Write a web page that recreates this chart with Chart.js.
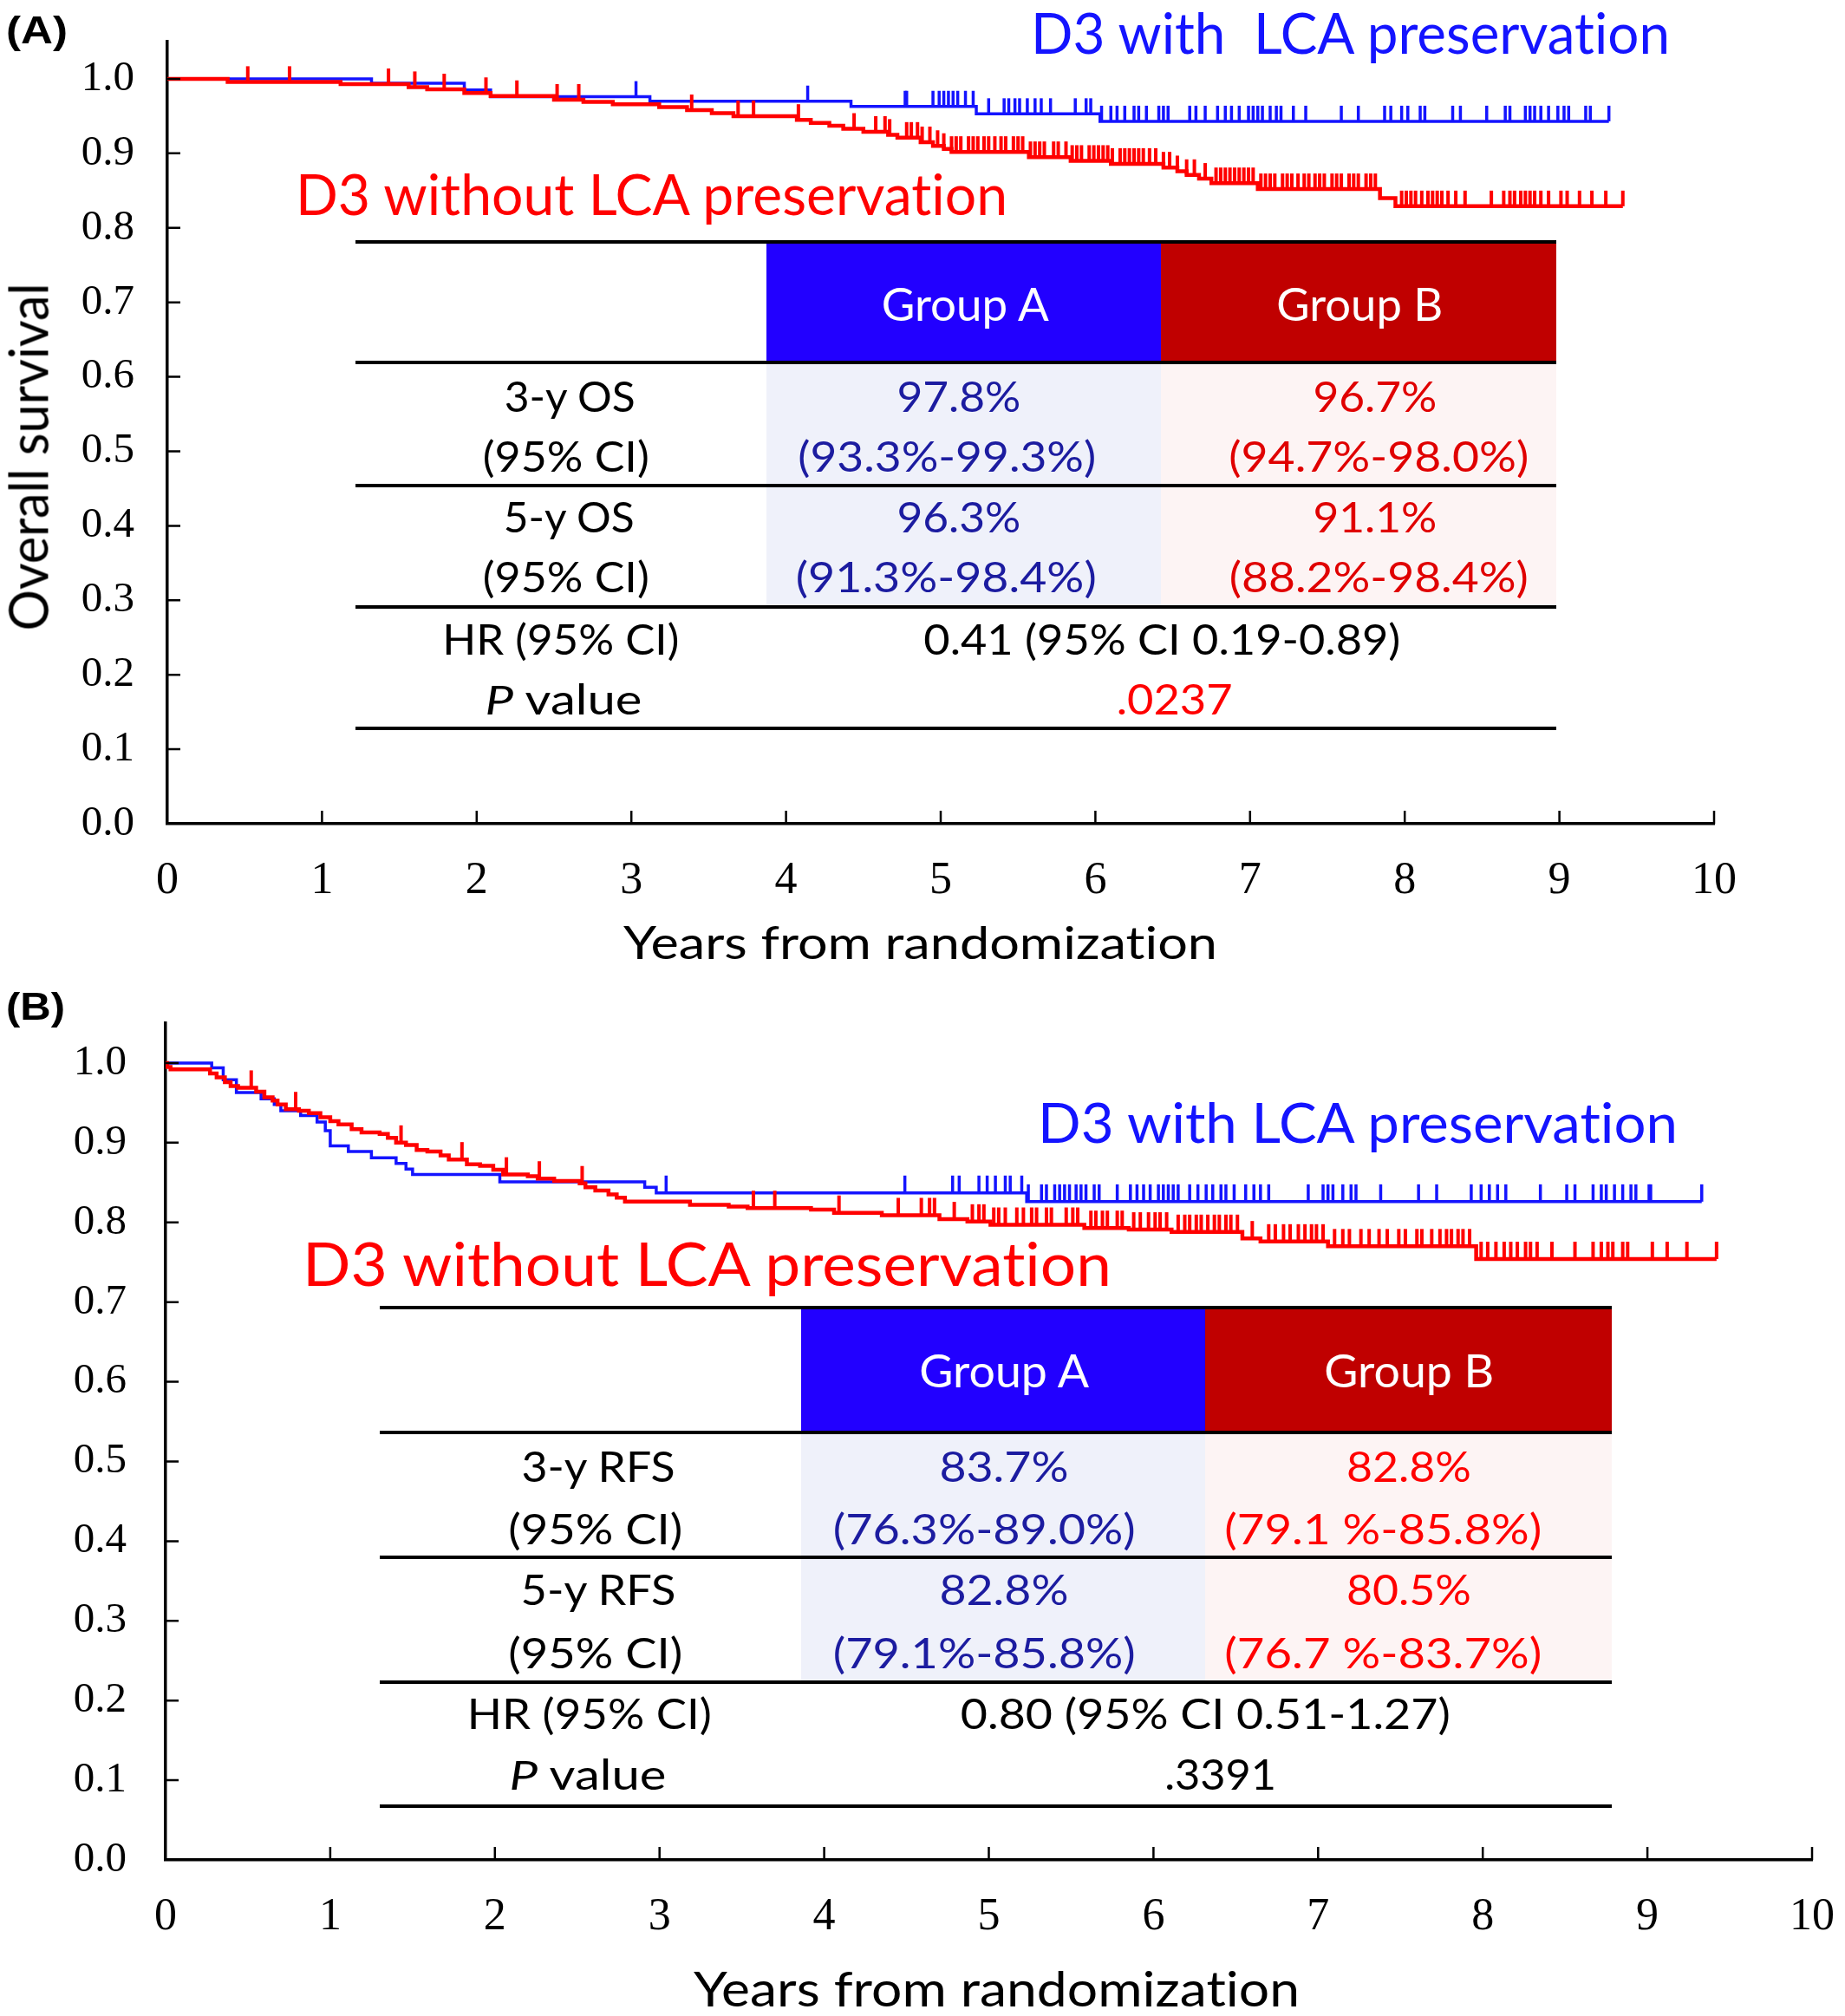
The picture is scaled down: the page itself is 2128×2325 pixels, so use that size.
<!DOCTYPE html>
<html><head><meta charset="utf-8">
<script src="https://cdn.jsdelivr.net/npm/chart.js@4.4.1/dist/chart.umd.min.js"></script>
<style>
html,body{margin:0;padding:0;background:#fff;overflow:hidden;}
#page{position:relative;width:2128px;height:2325px;overflow:hidden;background:#fff;}
canvas{position:absolute;left:0;}
.t{position:absolute;left:0;top:0;white-space:pre;font-family:Lato,'Open Sans',sans-serif;line-height:1;font-variant-ligatures:none;font-feature-settings:"liga" 0,"dlig" 0;}
.box{position:absolute;}
</style></head><body><div id="page">
<canvas id="cA" width="2128" height="1130" style="top:0px"></canvas>
<canvas id="cB" width="2128" height="1195" style="top:1130px"></canvas>
</div>
<script>
// ---------------- DATA ----------------
const xTickValues = [0,1,2,3,4,5,6,7,8,9,10];
const yTickValues = [0,0.1,0.2,0.3,0.4,0.5,0.6,0.7,0.8,0.9,1.0];

// Panel A: overall survival
const osBlueTimes = [0,1.32,1.92,2.09,3.12,4.42,5.23,6.03];
const osBlueSurv  = [1,0.994,0.985,0.976,0.970,0.963,0.953,0.943];
const osBlueEnd = 9.32;
const osBlueCensor = [3.03,4.14,4.77,4.78,4.95,4.99,5.02,5.05,5.08,5.11,5.16,5.21,5.31,5.41,5.44,5.48,5.51,5.56,5.61,5.65,5.71,5.87,5.94,5.97,6.04,6.10,6.14,6.19,6.25,6.28,6.33,6.41,6.44,6.47,6.61,6.65,6.71,6.79,6.84,6.88,6.93,6.99,7.02,7.05,7.08,7.13,7.17,7.20,7.28,7.36,7.59,7.70,7.87,7.91,7.98,8.02,8.10,8.13,8.31,8.36,8.53,8.65,8.68,8.78,8.81,8.84,8.88,8.93,8.99,9.03,9.06,9.17,9.20,9.32];

const osRedTimes = [0,0.39,1.12,1.56,1.68,1.92,2.09,2.50,2.69,2.88,3.18,3.36,3.52,3.66,4.07,4.16,4.28,4.37,4.50,4.66,4.72,4.87,4.95,5.02,5.07,5.57,5.84,6.10,6.44,6.53,6.59,6.67,6.75,7.05,7.84,7.94];
const osRedSurv  = [1,0.996,0.993,0.989,0.986,0.981,0.977,0.972,0.969,0.966,0.962,0.958,0.954,0.950,0.945,0.941,0.937,0.933,0.929,0.925,0.921,0.915,0.910,0.906,0.902,0.895,0.890,0.886,0.881,0.876,0.871,0.866,0.860,0.852,0.840,0.829];
const osRedEnd = 9.41;
const osRedCensor = [0.52,0.79,1.43,1.60,1.79,2.06,2.26,2.52,2.66,3.39,3.69,3.79,4.08,4.44,4.58,4.64,4.67,4.78,4.81,4.85,4.88,4.93,4.98,5.02,5.07,5.10,5.13,5.18,5.21,5.24,5.28,5.31,5.35,5.39,5.42,5.47,5.50,5.53,5.58,5.61,5.64,5.67,5.73,5.76,5.81,5.85,5.88,5.91,5.96,5.99,6.02,6.05,6.08,6.11,6.16,6.19,6.22,6.25,6.28,6.31,6.35,6.39,6.44,6.48,6.53,6.59,6.64,6.71,6.78,6.81,6.84,6.87,6.90,6.93,6.96,6.99,7.02,7.07,7.10,7.13,7.16,7.21,7.24,7.27,7.31,7.35,7.38,7.42,7.45,7.48,7.53,7.56,7.59,7.64,7.67,7.70,7.75,7.78,7.81,7.98,8.01,8.04,8.07,8.11,8.15,8.18,8.21,8.24,8.28,8.33,8.39,8.56,8.64,8.68,8.71,8.75,8.78,8.81,8.84,8.88,8.93,9.01,9.05,9.13,9.21,9.30,9.41];

// Panel B: relapse-free survival
const rfsBlueTimes = [0,0.28,0.35,0.43,0.58,0.66,0.70,0.82,0.92,0.97,1.00,1.11,1.25,1.40,1.46,1.50,2.03,2.91,2.98,5.23];
const rfsBlueSurv  = [1,0.994,0.979,0.963,0.955,0.948,0.940,0.934,0.926,0.915,0.896,0.889,0.881,0.874,0.867,0.860,0.851,0.844,0.837,0.826];
const rfsBlueEnd = 9.33;
const rfsBlueCensor = [3.04,4.49,4.78,4.82,4.94,4.99,5.04,5.10,5.13,5.20,5.24,5.32,5.35,5.40,5.43,5.46,5.49,5.53,5.56,5.59,5.64,5.67,5.78,5.86,5.90,5.94,5.98,6.03,6.06,6.09,6.12,6.15,6.22,6.27,6.32,6.36,6.41,6.44,6.49,6.56,6.61,6.65,6.70,6.94,7.03,7.06,7.09,7.15,7.20,7.23,7.38,7.61,7.72,7.93,7.99,8.04,8.09,8.14,8.35,8.51,8.56,8.67,8.72,8.75,8.80,8.85,8.90,8.93,9.01,9.02,9.33];

const rfsRedTimes = [0,0.01,0.03,0.27,0.31,0.36,0.395,0.44,0.55,0.60,0.65,0.68,0.73,0.81,0.87,0.94,1.00,1.05,1.13,1.19,1.30,1.35,1.40,1.46,1.525,1.59,1.67,1.72,1.83,1.91,1.99,2.05,2.20,2.26,2.36,2.515,2.55,2.61,2.69,2.74,2.79,3.185,3.42,3.535,3.92,4.06,4.35,4.70,4.87,5.01,5.58,5.85,6.11,6.54,6.65,7.06,7.96];
const rfsRedSurv  = [1,0.995,0.992,0.987,0.982,0.976,0.971,0.969,0.964,0.957,0.953,0.948,0.942,0.940,0.937,0.932,0.927,0.923,0.917,0.913,0.911,0.906,0.900,0.897,0.891,0.889,0.884,0.879,0.873,0.871,0.866,0.860,0.858,0.855,0.852,0.849,0.844,0.840,0.835,0.831,0.826,0.822,0.820,0.818,0.816,0.812,0.809,0.804,0.801,0.797,0.793,0.791,0.788,0.780,0.776,0.770,0.754];
const rfsRedEnd = 9.42;
const rfsRedCensor = [0.52,0.79,1.43,1.80,2.07,2.27,2.53,3.57,3.70,4.09,4.45,4.59,4.64,4.67,4.79,4.90,4.94,4.97,5.03,5.06,5.10,5.17,5.21,5.26,5.29,5.35,5.38,5.47,5.51,5.54,5.62,5.65,5.69,5.72,5.78,5.81,5.88,5.92,5.97,6.01,6.04,6.08,6.15,6.19,6.22,6.26,6.29,6.33,6.37,6.40,6.44,6.47,6.51,6.60,6.70,6.74,6.79,6.83,6.88,6.92,6.96,6.99,7.03,7.10,7.15,7.19,7.26,7.31,7.37,7.42,7.49,7.53,7.60,7.63,7.69,7.74,7.78,7.81,7.85,7.88,7.92,7.99,8.03,8.08,8.13,8.17,8.21,8.26,8.29,8.33,8.42,8.56,8.67,8.72,8.76,8.79,8.85,8.88,9.03,9.12,9.24,9.42];

// Table texts
const groupNames = ['Group A','Group B'];
const osRowLabels = ['3-y OS','(95% CI)','5-y OS','(95% CI)','HR (95% CI)','<i>P</i> value'];
const osGroupA = ['97.8%','(93.3%-99.3%)','96.3%','(91.3%-98.4%)'];
const osGroupB = ['96.7%','(94.7%-98.0%)','91.1%','(88.2%-98.4%)'];
const osHR = '0.41 (95% CI 0.19-0.89)';
const osP = '.0237';
const rfsRowLabels = ['3-y RFS','(95% CI)','5-y RFS','(95% CI)','HR (95% CI)','<i>P</i> value'];
const rfsGroupA = ['83.7%','(76.3%-89.0%)','82.8%','(79.1%-85.8%)'];
const rfsGroupB = ['82.8%','(79.1 %-85.8%)','80.5%','(76.7 %-83.7%)'];
const rfsHR = '0.80 (95% CI 0.51-1.27)';
const rfsP = '.3391';

// ---------------- STYLE ----------------
const BLUE = '#1414ff', RED = '#ff0000';
const W = 2128;

function kmLine(t, s, end){ const p = t.map((x,i)=>({x:x,y:s[i]})); p.push({x:end,y:s[s.length-1]}); return p; }
function kmAt(t, s, x){ let v = s[0]; for (let i=0;i<t.length;i++){ if (t[i] <= x) v = s[i]; else break; } return v; }
function cens(t, s, times){ return times.map(x=>({x:x,y:kmAt(t,s,x)})); }

const inTicks = {
  id:'inTicks',
  afterDraw(chart, args, opts){
    const {ctx, chartArea:a, scales:{x,y}} = chart;
    ctx.save(); ctx.strokeStyle='#000'; ctx.lineWidth=opts.w; ctx.beginPath();
    x.ticks.forEach(t=>{ if (t.value===0) return; const px=x.getPixelForValue(t.value); ctx.moveTo(px,a.bottom); ctx.lineTo(px,a.bottom-opts.len); });
    y.ticks.forEach(t=>{ if (t.value===0) return; const py=y.getPixelForValue(t.value); ctx.moveTo(a.left,py); ctx.lineTo(a.left+opts.len,py); });
    ctx.stroke(); ctx.restore();
  }
};

function makeChart(id, H, area, d, censLen, xPad, yPad){
  const datasets = [
    {data:cens(d.rt,d.rs,d.rc), showLine:false, pointStyle:'dash', pointRotation:-90, pointRadius:censLen, pointBorderColor:RED, pointBackgroundColor:RED, pointBorderWidth:4, pointHitRadius:0},
    {data:kmLine(d.rt,d.rs,d.re), showLine:true, stepped:true, borderColor:RED, borderWidth:4.5, pointRadius:0, fill:false},
    {data:cens(d.bt,d.bs,d.bc), showLine:false, pointStyle:'dash', pointRotation:-90, pointRadius:censLen, pointBorderColor:BLUE, pointBackgroundColor:BLUE, pointBorderWidth:3.5, pointHitRadius:0},
    {data:kmLine(d.bt,d.bs,d.be), showLine:true, stepped:true, borderColor:BLUE, borderWidth:3.5, pointRadius:0, fill:false}
  ];
  return new Chart(document.getElementById(id), {
    type:'scatter',
    data:{datasets:datasets},
    plugins:[inTicks],
    options:{
      responsive:false, animation:false, devicePixelRatio:1, events:[],
      layout:{padding:{left:0, top:area.top, right:W-area.right, bottom:0}},
      plugins:{legend:{display:false}, tooltip:{enabled:false}, inTicks:{len:15, w:2.5}},
      scales:{
        x:{type:'linear', min:0, max:10,
           afterBuildTicks:s=>{ s.ticks = xTickValues.map(v=>({value:v})); },
           afterFit:s=>{ s.height = H-area.bottom; s.paddingLeft = 0; s.paddingRight = 0; },
           grid:{drawOnChartArea:false, drawTicks:false}, border:{color:'#000', width:3.5},
           ticks:{color:'#000', font:{family:"'Liberation Serif', serif", size:52}, padding:xPad, maxRotation:0, autoSkip:false, callback:v=>String(v)}},
        y:{type:'linear', min:0, max:1.05,
           afterBuildTicks:s=>{ s.ticks = yTickValues.map(v=>({value:v})); },
           afterFit:s=>{ s.width = area.left; s.paddingTop = 0; s.paddingBottom = 0; },
           grid:{drawOnChartArea:false, drawTicks:false}, border:{color:'#000', width:3.5},
           ticks:{color:'#000', font:{family:"'Liberation Serif', serif", size:49}, padding:yPad, autoSkip:false, callback:v=>v.toFixed(1)}}
      }
    }
  });
}

makeChart('cA', 1130, {left:193, right:1977, top:48, bottom:950},
  {bt:osBlueTimes, bs:osBlueSurv, be:osBlueEnd, bc:osBlueCensor, rt:osRedTimes, rs:osRedSurv, re:osRedEnd, rc:osRedCensor}, 18, 35, 38);
makeChart('cB', 1195, {left:191, right:2090, top:50, bottom:1015},
  {bt:rfsBlueTimes, bs:rfsBlueSurv, be:rfsBlueEnd, bc:rfsBlueCensor, rt:rfsRedTimes, rs:rfsRedSurv, re:rfsRedEnd, rc:rfsRedCensor}, 20, 35, 45);

// ---------------- TEXT & TABLE OVERLAY ----------------
const page = document.getElementById('page');
function box(x0,y0,x1,y1,color){
  const d=document.createElement('div'); d.className='box';
  d.style.left=x0+'px'; d.style.top=y0+'px'; d.style.width=(x1-x0)+'px'; d.style.height=(y1-y0)+'px'; d.style.background=color;
  page.appendChild(d);
}
function txt(html, o){
  const d=document.createElement('div'); d.className='t';
  const ratio = o.ratio || 0.7165;
  d.style.fontSize = (o.cap/ratio)+'px';
  d.style.color = o.color || '#000';
  if (o.family) d.style.fontFamily = o.family;
  if (o.weight) d.style.fontWeight = o.weight;
  d.innerHTML = html + '<span style="display:inline-block;width:0;height:0;vertical-align:baseline"></span>';
  page.appendChild(d);
  const base = d.lastChild.offsetTop;
  const w = d.getBoundingClientRect().width;
  const s = o.w ? o.w/w : 1;
  let ox, left;
  if (o.cx !== undefined){ ox = w/2; left = o.cx - w/2; } else { ox = 0; left = o.left; }
  let top = o.b - base;
  if (o.rot){ ox = w/2; left = o.b - w/2; top = o.cx - base; }
  d.style.left = left+'px'; d.style.top = top+'px';
  d.style.transformOrigin = ox+'px '+base+'px';
  d.style.transform = (o.rot ? 'rotate('+o.rot+'deg) ' : '') + 'scaleX('+s+')';
}

function table(T, P){
  box(T.colA[0], T.body[0], T.colA[1], T.body[1], '#eff1fa');
  box(T.colB[0], T.body[0], T.colB[1], T.body[1], '#fdf4f4');
  box(T.colA[0], T.head[0], T.colA[1], T.head[1], '#2200ff');
  box(T.colB[0], T.head[0], T.colB[1], T.head[1], '#c00000');
  T.lines.forEach(y=>box(T.x0, y-2, T.x1, y+2, '#000'));
  P.heads.forEach((p,i)=>txt(groupNames[i], {cx:p.cx, b:p.b, w:p.w, cap:37, color:'#fff'}));
  P.labels.forEach((p,i)=>txt(P.labelTexts[i], {cx:p.cx, b:p.b, w:p.w, cap:34}));
  P.a.forEach((p,i)=>txt(P.aTexts[i], {cx:p.cx, b:p.b, w:p.w, cap:34, color:'#1c1ca0'}));
  P.bv.forEach((p,i)=>txt(P.bTexts[i], {cx:p.cx, b:p.b, w:p.w, cap:34, color:P.redVal}));
  txt(P.hrText, {cx:P.hr.cx, b:P.hr.b, w:P.hr.w, cap:34});
  txt(P.pText, {cx:P.p.cx, b:P.p.b, w:P.p.w, cap:34, color:P.pColor});
}

// Panel A
txt('(A)', {left:7, b:50, cap:32, w:71, family:"'Liberation Sans', Arial, sans-serif", weight:'bold', ratio:0.716});
txt('D3 with  LCA preservation', {left:1189, b:62, cap:47, w:737, color:BLUE});
txt('D3 without LCA preservation', {left:341, b:248, cap:46.5, w:821, color:RED});
txt('Years from randomization', {left:719, b:1106, cap:37, w:685});
txt('Overall survival', {cx:527, b:55, cap:44, w:401, rot:-90});
table({x0:410, x1:1795, lines:[279,418,559.5,700,839.5], colA:[884,1339], colB:[1339,1795], head:[279,418], body:[418,700]}, {
  heads:[{cx:1113,b:370,w:193},{cx:1568,b:370,w:192}],
  labelTexts:osRowLabels,
  labels:[{cx:657,b:475,w:151},{cx:653,b:544,w:192},{cx:656,b:614,w:151},{cx:653,b:683,w:192},{cx:647,b:755,w:273},{cx:650,b:824,w:181}],
  aTexts:osGroupA, a:[{cx:1106,b:475,w:143},{cx:1092,b:544,w:344},{cx:1106,b:614,w:143},{cx:1091,b:683,w:347}],
  bTexts:osGroupB, bv:[{cx:1586,b:475,w:143},{cx:1590,b:544,w:346},{cx:1586,b:614,w:143},{cx:1590,b:683,w:345}],
  redVal:'#e00000',
  hrText:osHR, hr:{cx:1340,b:755,w:550},
  pText:osP, p:{cx:1355,b:824,w:134}, pColor:'#ff0000'
});

// Panel B
txt('(B)', {left:7, b:1176, cap:32, w:68, family:"'Liberation Sans', Arial, sans-serif", weight:'bold', ratio:0.716});
txt('D3 with LCA preservation', {left:1197, b:1318, cap:46, w:738, color:BLUE});
txt('D3 without LCA preservation', {left:349, b:1483, cap:50, w:933, color:RED});
txt('Years from randomization', {left:800, b:2314, cap:40, w:699});
table({x0:438, x1:1859, lines:[1508,1652,1796,1939.5,2083], colA:[924,1390], colB:[1390,1859], head:[1508,1652], body:[1652,1939.5]}, {
  heads:[{cx:1158,b:1600,w:196},{cx:1625,b:1600,w:196}],
  labelTexts:rfsRowLabels,
  labels:[{cx:690,b:1709,w:177},{cx:687,b:1781,w:201},{cx:690,b:1851,w:179},{cx:687,b:1924,w:201},{cx:680,b:1994,w:282},{cx:678,b:2064,w:181}],
  aTexts:rfsGroupA, a:[{cx:1158,b:1709,w:149},{cx:1135,b:1781,w:349},{cx:1158,b:1851,w:149},{cx:1135,b:1924,w:349}],
  bTexts:rfsGroupB, bv:[{cx:1625,b:1709,w:144},{cx:1595,b:1781,w:366},{cx:1625,b:1851,w:144},{cx:1595,b:1924,w:366}],
  redVal:'#ff0000',
  hrText:rfsHR, hr:{cx:1390,b:1994,w:565},
  pText:rfsP, p:{cx:1408,b:2064,w:129}, pColor:'#000'
});
</script></body></html>
